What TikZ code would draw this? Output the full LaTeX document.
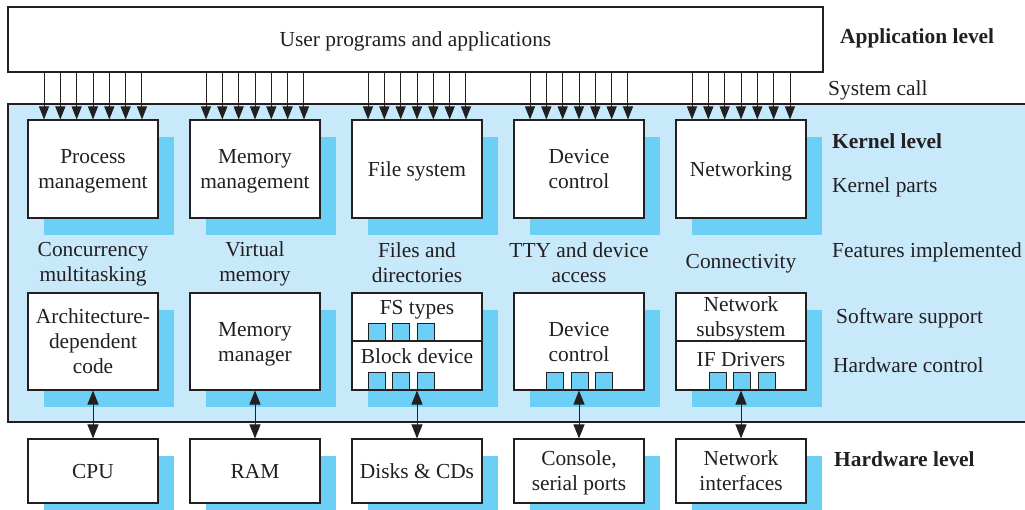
\documentclass[tikz,border=0pt]{standalone}
\usepackage{fontspec}
\setmainfont{Liberation Serif}
\usetikzlibrary{arrows.meta,shadows,calc}

\definecolor{panelblue}{RGB}{200,233,249}
\definecolor{shadeblue}{RGB}{108,207,245}
\definecolor{ink}{RGB}{35,31,32}

\tikzset{
  txt/.style={font=\fontsize{21.4}{25}\selectfont, text=ink},
  boldtxt/.style={font=\fontsize{21.4}{25}\selectfont\bfseries, text=ink},
  part/.style={txt, draw=ink, line width=1.1pt, fill=white, align=center,
    minimum width=130, minimum height=98, inner sep=0, text depth=0pt,
    drop shadow={shadow xshift=16pt, shadow yshift=-17pt, fill=shadeblue, opacity=1}},
  hwbox/.style={part, minimum height=64},
  plainbox/.style={txt, draw=ink, line width=1.1pt, fill=white, align=center, inner sep=0, text depth=0pt},
  port/.style={draw=ink, line width=1pt, fill=shadeblue, minimum size=17, inner sep=0, anchor=south},
  lbl/.style={txt, inner sep=0, anchor=base west},
  blbl/.style={boldtxt, inner sep=0, anchor=base west},
  feat/.style={txt, align=center, inner sep=0},
  syscall/.style={draw=ink, line width=1pt, -{Triangle[length=13pt,width=10pt]}},
  hwlink/.style={draw=ink, line width=1pt, {Triangle[length=14pt,width=11pt]}-{Triangle[length=14pt,width=11pt]}},
}

\begin{document}
\begin{tikzpicture}[x=1pt, y=-1pt]
\clip (0,0) rectangle (1025,510);

% kernel panel (runs past the right edge)
\path[fill=panelblue, draw=ink, line width=1.1pt] (8,104) rectangle (1040,422);

% application level
\node[plainbox, minimum width=815, minimum height=65] (apps) at (415.5,39.5) {User programs and applications};

% kernel parts
\node[part] (pm)  at (93,169)  {Process\\management};
\node[part] (mm)  at (255,169) {Memory\\management};
\node[part] (fs)  at (417,169) {File system};
\node[part] (dc)  at (579,169) {Device\\control};
\node[part] (net) at (741,169) {Networking};

% system calls
\foreach \n in {pm,mm,fs,dc,net}{
  \foreach \k in {-3,...,3}{
    \draw[syscall] ($(apps.south -| \n.north)+(\k*16.33,0)$) -- ($(\n.north)+(\k*16.33,0)$);
  }
}

% features implemented
\node[feat] (f1) at (93,264)  {Concurrency\\multitasking};
\node[feat] (f2) at (255,264) {Virtual\\memory};
\node[feat] (f3) at (417,263) {Files and\\directories};
\node[feat] (f4) at (579,263) {TTY and device\\access};
\node[feat] (f5) at (741,264) {Connectivity};

% software support / hardware control
\node[part, minimum height=97] (arch) at (93,341.5)  {Architecture-\\dependent\\code};
\node[part, minimum height=97] (mman) at (255,341.5) {Memory\\manager};
\node[part, minimum height=97] (fsb)  at (417,341.5) {};
\node[part, minimum height=97] (dev)  at (579,341.5) {Device\\control};
\node[part, minimum height=97] (nsb)  at (741,341.5) {};

\draw[ink, line width=1.1pt] (fsb.west |- 0,341) coordinate (fsl) -- (fsb.east |- 0,341) coordinate (fsr);
\draw[ink, line width=1.1pt] (nsb.west |- 0,341) coordinate (nsl) -- (nsb.east |- 0,341) coordinate (nsr);

\node[txt, inner sep=0] (fstypes) at (417,310) {FS types};
\node[txt, inner sep=0] (blkdev)  at (417,356.5) {Block device};
\node[txt, inner sep=0, align=center] (netsub) at (741,319) {Network\\subsystem};
\node[txt, inner sep=0] (ifdrv)  at (741,360) {IF Drivers};

% device ports
\foreach \x [count=\i] in {376.5,401,425.5}{
  \node[port] (fsp\i) at (\x,341) {};
  \node[port] (bdp\i) at (\x,390) {};
}
\foreach \x [count=\i] in {555,579.5,604}{
  \node[port] (dcp\i) at (\x,390) {};
}
\foreach \x [count=\i] in {717.5,742,766.5}{
  \node[port] (ifp\i) at (\x,390) {};
}

% hardware level
\node[hwbox] (cpu)  at (93,471)  {CPU};
\node[hwbox] (ram)  at (255,471) {RAM};
\node[hwbox] (disk) at (417,471) {Disks \& CDs};
\node[hwbox] (cons) at (579,471) {Console,\\serial ports};
\node[hwbox] (nif)  at (741,471) {Network\\interfaces};

\draw[hwlink] (arch.south) -- (cpu.north);
\draw[hwlink] (mman.south) -- (ram.north);
\draw[hwlink] (fsb.south) -- (disk.north);
\draw[hwlink] (dev.south) -- (cons.north);
\draw[hwlink] (nsb.south) -- (nif.north);

% level captions
\node[blbl] (applvl) at (840,43.5)  {Application level};
\node[lbl]  (sclbl)  at (828,96)    {System call};
\node[blbl] (krnlvl) at (832,149)   {Kernel level};
\node[lbl]  (kparts) at (832,193)   {Kernel parts};
\node[lbl]  (featl)  at (832,258)   {Features implemented};
\node[lbl]  (swsup)  at (836,324)   {Software support};
\node[lbl]  (hwctl)  at (833,373)   {Hardware control};
\node[blbl] (hwlvl)  at (834,466)   {Hardware level};
\end{tikzpicture}
\end{document}
